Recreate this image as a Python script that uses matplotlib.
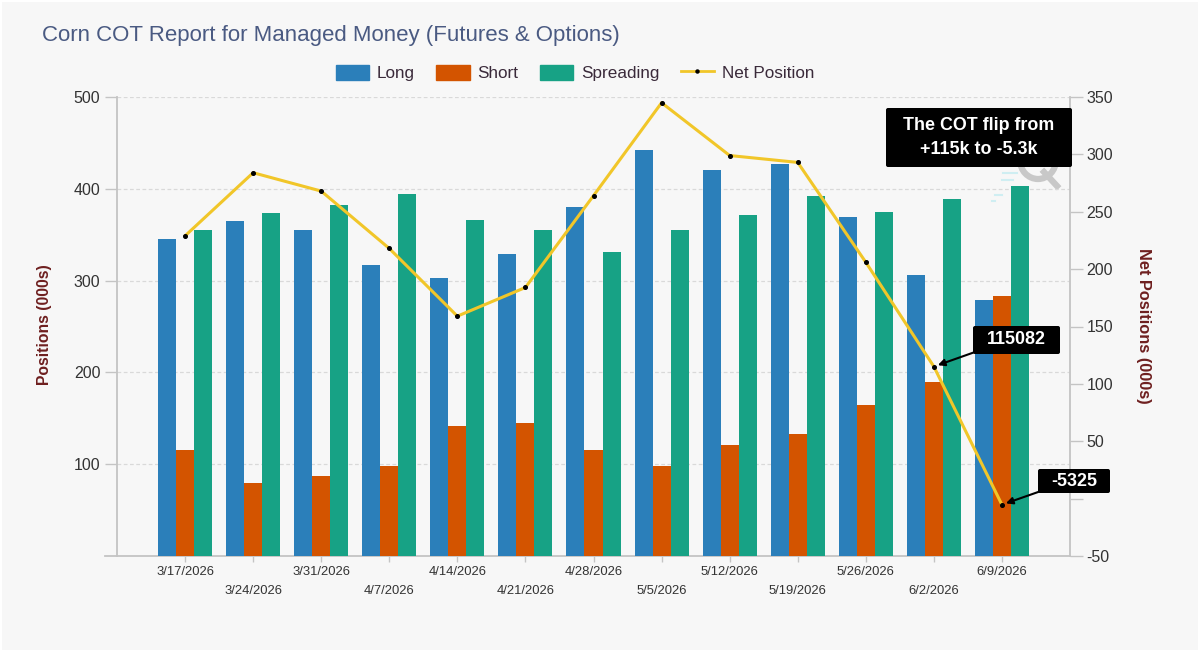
import matplotlib
matplotlib.use("Agg")
import matplotlib.pyplot as plt
from matplotlib.patches import FancyBboxPatch, Patch, Ellipse
from matplotlib.lines import Line2D
from matplotlib.transforms import IdentityTransform

plt.rcParams['font.family'] = ['Liberation Sans', 'DejaVu Sans']

dates = ['3/17/2026', '3/24/2026', '3/31/2026', '4/7/2026', '4/14/2026', '4/21/2026', '4/28/2026',
         '5/5/2026', '5/12/2026', '5/19/2026', '5/26/2026', '6/2/2026', '6/9/2026']
long_pos = [345, 365, 355, 317, 303, 329, 380, 442, 421, 427, 369, 306, 279]
short_pos = [116, 80, 87, 98, 142, 145, 116, 98, 121, 133, 164, 190, 283]
spreading = [355, 374, 382, 394, 366, 355, 331, 355, 372, 392, 375, 389, 403]
net_pos = [229, 284, 268, 218, 159, 184, 264, 345, 299, 293, 206, 115.082, -5.325]
right_ticks = [-50, 0, 50, 100, 150, 200, 250, 300, 350]
right_labels = ['-50', '', '50', '100', '150', '200', '250', '300', '350']

BG = '#f7f7f7'
BLUE = '#2b7fba'
ORANGE = '#d35400'
GREEN = '#17a285'
YELLOW = '#f1c629'
AXIS = '#c4c4c4'
W, H = 1200, 652

fig = plt.figure(figsize=(12, 6.52), dpi=100, facecolor='white')
px = IdentityTransform()
fig.add_artist(FancyBboxPatch((2, 2), W - 4, H - 4, boxstyle='square,pad=0', transform=px,
                              facecolor=BG, edgecolor='none', zorder=-5))

# watermark sits behind the axes and the note box, only its lower part shows
fig.add_artist(Ellipse((1038, H - 160), 36, 38, transform=px, facecolor='none', edgecolor='#c8c8c8', lw=4.5,
                       zorder=-1))
fig.add_artist(Line2D([1044, 1057], [H - 172, H - 186], transform=px, color='#c8c8c8', lw=4.5, zorder=-1))
for lx0, lx1, ly in [(1003, 1017, 173), (1002, 1013, 180), (995, 1002, 195), (992, 995, 201)]:
    fig.add_artist(Line2D([lx0, lx1], [H - ly, H - ly], transform=px, color='#cfeef2', lw=1.5, zorder=-1))

ax = fig.add_axes([117 / W, 1 - 556 / H, 953 / W, 459 / H])
ax.patch.set_alpha(0)

x = list(range(len(dates)))
bw = 0.265
ax.bar([i - bw for i in x], long_pos, bw, color=BLUE, zorder=3)
ax.bar(x, short_pos, bw, color=ORANGE, zorder=3)
ax.bar([i + bw for i in x], spreading, bw, color=GREEN, zorder=3)

ax.set_xlim(-1, 13)
ax.set_ylim(0, 500)
ax.set_yticks([100, 200, 300, 400, 500])
ax.yaxis.grid(True, color='#d9d9d9', linestyle=(0, (3, 2)), linewidth=0.9, zorder=0)
ax.set_axisbelow(True)
ax.set_xticks(x)
ax.set_xticklabels(dates, fontsize=9.4, color='#333333')
for i, tick in enumerate(ax.xaxis.get_major_ticks()):
    tick.set_pad(3 if i % 2 == 0 else 17)
ax.tick_params(axis='x', length=4, color=AXIS, width=1)
ax.tick_params(axis='y', length=9, color=AXIS, width=1, labelsize=11.5, labelcolor='#333333', pad=3)
for s in ['top', 'right']:
    ax.spines[s].set_visible(False)
for s in ['left', 'bottom']:
    ax.spines[s].set_color(AXIS)
    ax.spines[s].set_linewidth(1.3)
# baseline runs a bit past the left axis
ax.plot([-1.17, -1], [0, 0], color=AXIS, lw=1.3, clip_on=False, zorder=2)

ax2 = ax.twinx()
ax2.set_ylim(-50, 350)
ax2.set_yticks(right_ticks)
ax2.set_yticklabels(right_labels)
ax2.patch.set_alpha(0)
ax2.tick_params(axis='y', length=9, color=AXIS, width=1, labelsize=11.5, labelcolor='#333333', pad=3)
for s in ['top', 'left', 'bottom']:
    ax2.spines[s].set_visible(False)
ax2.spines['right'].set_color(AXIS)
ax2.spines['right'].set_linewidth(1.3)

ax2.plot(x, net_pos, color=YELLOW, lw=2.2, marker='o', markersize=2.6, markerfacecolor='black',
         markeredgecolor='black', zorder=6)

fig.text(42 / W, 1 - 36 / H, 'Corn COT Report for Managed Money (Futures & Options)', fontsize=16,
         color='#4a5a82', ha='left', va='center')

handles = [Patch(color=BLUE, label='Long'), Patch(color=ORANGE, label='Short'), Patch(color=GREEN, label='Spreading'),
           Line2D([], [], color=YELLOW, lw=2, marker='o', markersize=2.2, markerfacecolor='black',
                  markeredgecolor='black', label='Net Position')]
leg = fig.legend(handles=handles, loc='center', bbox_to_anchor=(575 / W, 1 - 73 / H), ncol=4, frameon=False,
                 fontsize=12.3, handlelength=1.95, handleheight=0.95, handletextpad=0.45, columnspacing=1.25)
for t in leg.get_texts():
    t.set_color('#3a2a3a')

fig.text(45 / W, 1 - 325 / H, 'Positions (000s)', rotation=90, fontsize=11.3, fontweight='bold', color='#6e1f1f',
         ha='center', va='center')
fig.text(1143 / W, 1 - 326 / H, 'Net Positions (000s)', rotation=270, fontsize=11.8, fontweight='bold',
         color='#6e1f1f', ha='center', va='center')


def note(text, x0, y0, w, h, size):
    fig.add_artist(FancyBboxPatch((x0, H - y0 - h), w, h, boxstyle='round,pad=0,rounding_size=2',
                                  transform=px, facecolor='black', edgecolor='none', zorder=10))
    fig.text((x0 + w / 2) / W, 1 - (y0 + h / 2) / H, text, color='white', fontsize=size, fontweight='bold',
             ha='center', va='center', linespacing=1.5, zorder=11)


note('The COT flip from\n+115k to -5.3k', 886, 108, 186, 59, 12.9)
note('115082', 973, 326, 87, 28, 12.9)
note('-5325', 1038, 469, 72, 24, 12.9)

arrow = dict(arrowstyle='-|>', color='black', lw=1.5, mutation_scale=10, shrinkA=0, shrinkB=3)
ax2.annotate('', xy=(11, net_pos[11]), xytext=(975, H - 352), textcoords='figure pixels', arrowprops=arrow,
             zorder=9)
ax2.annotate('', xy=(12, net_pos[12]), xytext=(1041, H - 491), textcoords='figure pixels', arrowprops=arrow,
             zorder=9)

fig.savefig('out.png', dpi=100, facecolor=fig.get_facecolor())
